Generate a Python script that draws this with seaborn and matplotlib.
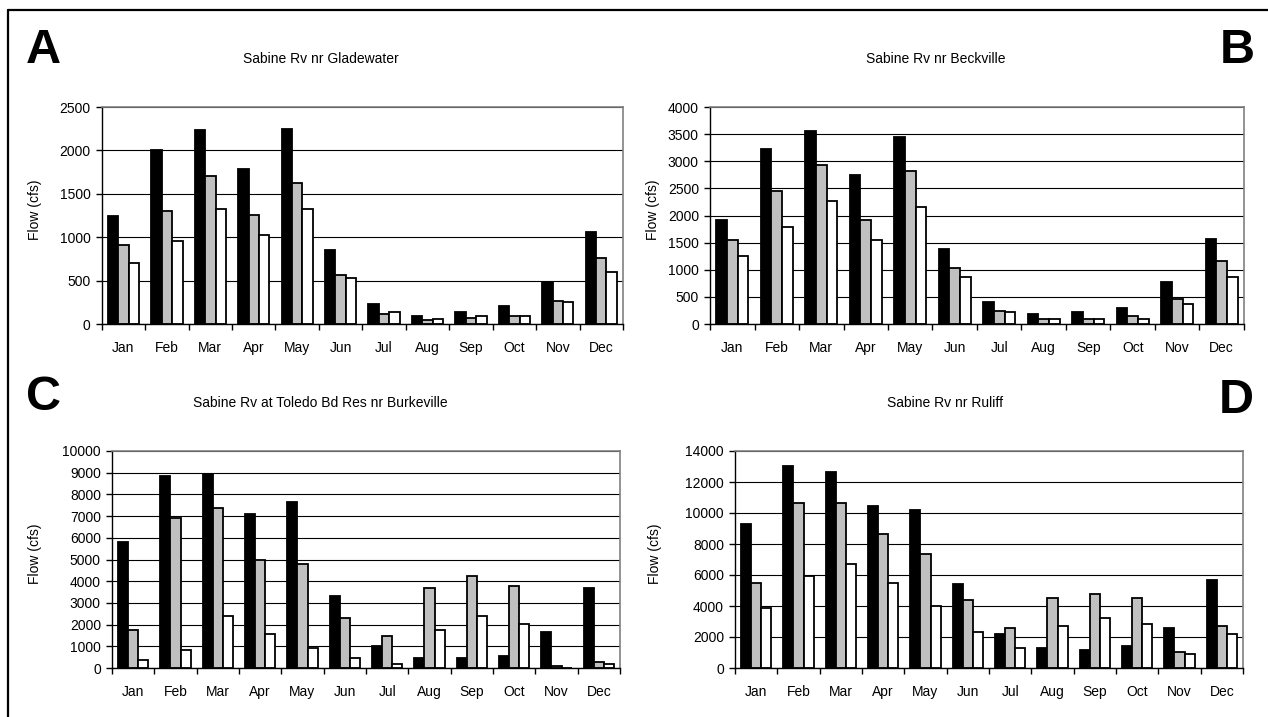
import numpy as np
import pandas as pd
import matplotlib
matplotlib.use("Agg")
import matplotlib.pyplot as plt
from matplotlib.lines import Line2D
from matplotlib.ticker import FixedLocator, MultipleLocator
import seaborn as sns

# Monthly flows (cfs) at four Sabine River gauges, three flow statistics each
months = ["Jan", "Feb", "Mar", "Apr", "May", "Jun", "Jul", "Aug", "Sep", "Oct", "Nov", "Dec"]
series_names = ["Series 1", "Series 2", "Series 3"]

gladewater_s1 = [1240, 2000, 2230, 1790, 2250, 850, 230, 90, 140, 205, 485, 1055]
gladewater_s2 = [910, 1305, 1700, 1255, 1630, 570, 110, 45, 65, 88, 270, 755]
gladewater_s3 = [700, 960, 1330, 1030, 1330, 525, 135, 60, 90, 88, 250, 595]

beckville_s1 = [1910, 3235, 3565, 2750, 3455, 1390, 400, 185, 215, 290, 770, 1575]
beckville_s2 = [1540, 2455, 2935, 1910, 2825, 1025, 245, 100, 100, 140, 470, 1170]
beckville_s3 = [1245, 1795, 2270, 1540, 2160, 875, 215, 100, 100, 100, 360, 875]

burkeville_s1 = [5820, 8850, 8940, 7100, 7640, 3320, 1030, 450, 450, 555, 1670, 3690]
burkeville_s2 = [1760, 6900, 7370, 4980, 4790, 2310, 1490, 3690, 4240, 3780, 110, 290]
burkeville_s3 = [380, 840, 2400, 1580, 930, 475, 200, 1760, 2400, 2040, 0, 200]

ruliff_s1 = [9280, 13010, 12630, 10440, 10180, 5420, 2210, 1310, 1180, 1440, 2590, 5680]
ruliff_s2 = [5510, 10660, 10660, 8640, 7350, 4395, 2590, 4520, 4780, 4520, 1020, 2700]
ruliff_s3 = [3880, 5940, 6710, 5510, 4010, 2340, 1310, 2720, 3240, 2850, 880, 2200]

titles = ["Sabine Rv nr Gladewater", "Sabine Rv nr Beckville",
          "Sabine Rv at Toledo Bd Res nr Burkeville", "Sabine Rv nr Ruliff"]
letters = ["A", "B", "C", "D"]
y_max = [2500, 4000, 10000, 14000]
y_step = [500, 500, 1000, 2000]

panels = [
    (gladewater_s1, gladewater_s2, gladewater_s3),
    (beckville_s1, beckville_s2, beckville_s3),
    (burkeville_s1, burkeville_s2, burkeville_s3),
    (ruliff_s1, ruliff_s2, ruliff_s3),
]

W, H = 1268, 717
# axes boxes in pixels: left, top, right, bottom
boxes = [(101.7, 107, 623, 324), (710, 107, 1244, 324),
         (112, 451, 620, 668), (735, 451, 1243, 668)]
title_pos = [(321, 59), (936, 59), (320, 403), (945, 403)]
letter_pos = [(26, 63), (1220, 63), (26, 410), (1219, 413)]
ylabel_x = [35, 653, 35, 655]

sns.set_theme(style="white")
plt.rcParams["font.family"] = ["Liberation Sans", "DejaVu Sans"]
plt.rcParams["text.color"] = "black"
plt.rcParams["xtick.color"] = "black"
plt.rcParams["ytick.color"] = "black"
plt.rcParams["axes.labelcolor"] = "black"

fig = plt.figure(figsize=(W / 100, H / 100), dpi=100)
palette = ["#000000", "#c0c0c0", "#ffffff"]

for i, (vals, title) in enumerate(zip(panels, titles)):
    l, t, r, b = boxes[i]
    ax = fig.add_axes([l / W, 1 - b / H, (r - l) / W, (b - t) / H])
    df = pd.DataFrame({
        "Month": np.tile(months, 3),
        "Series": np.repeat(series_names, 12),
        "Flow": np.concatenate(vals),
    })
    sns.barplot(data=df, x="Month", y="Flow", hue="Series", order=months,
                hue_order=series_names, palette=palette, edgecolor="black",
                linewidth=1.3, width=0.72, gap=0, legend=False, ax=ax,
                errorbar=None, saturation=1)
    ax.set_xlim(-0.5, 11.5)
    ax.set_ylim(0, y_max[i])
    ax.yaxis.set_major_locator(MultipleLocator(y_step[i]))
    ax.set_xlabel("")
    ax.set_ylabel("")
    ax.grid(axis="y", color="black", linewidth=0.8)
    ax.set_axisbelow(True)
    for side in ["top", "right"]:
        ax.spines[side].set_visible(True)
        ax.spines[side].set_color("#808080")
        ax.spines[side].set_linewidth(1.2)
    for side in ["left", "bottom"]:
        ax.spines[side].set_color("black")
        ax.spines[side].set_linewidth(1.0)
    ax.xaxis.set_minor_locator(FixedLocator(np.arange(-0.5, 12, 1.0)))
    ax.tick_params(axis="x", which="major", length=0, pad=12, labelsize=10,
                   labelcolor="black")
    ax.tick_params(axis="x", which="minor", length=4, width=1.0,
                   direction="out", color="black", bottom=True)
    ax.tick_params(axis="y", which="major", length=4, width=1.0,
                   direction="out", pad=4, labelsize=10, labelcolor="black",
                   color="black", left=True)
    fig.text(title_pos[i][0] / W, 1 - title_pos[i][1] / H, title,
             ha="center", va="center", fontsize=10, color="black")
    fig.text(letter_pos[i][0] / W, 1 - letter_pos[i][1] / H, letters[i],
             ha="left", va="baseline", fontsize=35, fontweight="bold",
             color="black")
    fig.text(ylabel_x[i] / W, 1 - ((t + b) / 2 - 6) / H, "Flow (cfs)",
             rotation=90, ha="center", va="center", fontsize=10, color="black")

# outer frame (top and left edges)
fig.add_artist(Line2D([8 / W, 1], [1 - 10 / H, 1 - 10 / H],
                      transform=fig.transFigure, color="black", linewidth=1.6))
fig.add_artist(Line2D([8 / W, 8 / W], [0, 1 - 10 / H],
                      transform=fig.transFigure, color="black", linewidth=1.6))

fig.savefig("out.png", dpi=100, facecolor="white")
